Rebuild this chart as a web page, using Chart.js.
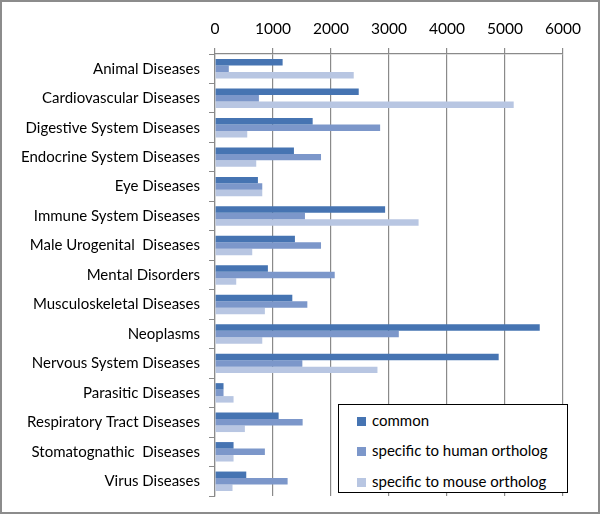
<!DOCTYPE html>
<html>
<head>
<meta charset="utf-8">
<script src="https://cdn.jsdelivr.net/npm/chart.js@4/dist/chart.umd.min.js"></script>
<style>
  html, body { margin: 0; padding: 0; background: #fff; }
  #wrap { position: relative; width: 600px; height: 514px; }
  #legend {
    position: absolute; left: 338px; top: 404px; width: 228px; height: 87px;
    border: 1.5px solid #000; background: #fff;
    font-family: Lato, "Liberation Sans", sans-serif; font-size: 15px; color: #000;
  }
  #legend div { position: absolute; left: 18px; height: 20px; line-height: 20px; }
  #legend span.sw { display: inline-block; width: 9px; height: 9px; margin-right: 6px; vertical-align: 0px; }
</style>
</head>
<body>
<div id="wrap">
  <canvas id="chart" width="600" height="514"></canvas>
  <div id="legend"></div>
</div>
<script>
// categories and series
var categories = [
  "Animal Diseases", "Cardiovascular Diseases", "Digestive System Diseases",
  "Endocrine System Diseases", "Eye Diseases", "Immune System Diseases",
  "Male Urogenital  Diseases", "Mental Disorders", "Musculoskeletal Diseases",
  "Neoplasms", "Nervous System Diseases", "Parasitic Diseases",
  "Respiratory Tract Diseases", "Stomatognathic  Diseases", "Virus Diseases"
];
var common = [1166, 2478, 1684, 1361, 740, 2933, 1378, 912, 1333, 5599, 4891, 147, 1097, 320, 539];
var humanSpecific = [238, 757, 2847, 1828, 815, 1551, 1828, 2064, 1592, 3169, 1506, 147, 1511, 860, 1252];
var mouseSpecific = [2392, 5150, 556, 711, 815, 3510, 642, 366, 860, 815, 2801, 320, 515, 320, 302];
var xTicks = [0, 1000, 2000, 3000, 4000, 5000, 6000];

var seriesNames = ["common", "specific to human ortholog", "specific to mouse ortholog"];
var seriesColors = ["#4674b2", "#7c97ca", "#b8c6e2"];

var fontFamily = 'Lato, "Liberation Sans", sans-serif';

var frame = {
  id: 'frame',
  afterDraw: function(chart) {
    var c = chart.ctx;
    c.save();
    c.strokeStyle = '#8c8c8c';
    c.lineWidth = 2;
    c.strokeRect(1, 1, chart.width - 2, chart.height - 2);
    c.restore();
  }
};

var datasets = [common, humanSpecific, mouseSpecific].map(function(d, i) {
  return {
    label: seriesNames[i],
    data: d,
    backgroundColor: seriesColors[i],
    borderWidth: 0,
    barPercentage: 1.0,
    categoryPercentage: 0.66
  };
});

var ctx = document.getElementById('chart');
var myChart = new Chart(ctx, {
  type: 'bar',
  data: { labels: categories, datasets: datasets },
  plugins: [frame],
  options: {
    indexAxis: 'y',
    responsive: false,
    animation: false,
    layout: { padding: { top: 0, left: 0, right: 37, bottom: 18 } },
    plugins: { legend: { display: false }, tooltip: { enabled: false } },
    scales: {
      x: {
        position: 'top',
        min: 0,
        max: 6000,
        afterFit: function(s) { s.height = 54; },
        afterBuildTicks: function(s) { s.ticks = xTicks.map(function(v) { return { value: v }; }); },
        ticks: {
          color: '#000', font: { family: fontFamily, size: 15.5 }, padding: 10, maxRotation: 0,
          callback: function(v) { return String(v); }
        },
        grid: { color: '#8a8a8a', lineWidth: 1.2, tickLength: 6 },
        border: { color: '#8a8a8a', width: 1.2 }
      },
      y: {
        afterFit: function(s) { s.width = 215; },
        ticks: { color: '#000', font: { family: fontFamily, size: 15 }, padding: 9, autoSkip: false },
        grid: { offset: true, drawOnChartArea: false, color: '#8a8a8a', tickLength: 6 },
        border: { color: '#8a8a8a', width: 1.2 }
      }
    }
  }
});

// legend box built from the same series
var lg = document.getElementById('legend');
var rowTops = [5, 35, 66];
seriesNames.forEach(function(n, i) {
  var d = document.createElement('div');
  d.style.top = rowTops[i] + 'px';
  d.innerHTML = '<span class="sw" style="background:' + seriesColors[i] + '"></span>' + n;
  lg.appendChild(d);
});
</script>
</body>
</html>
